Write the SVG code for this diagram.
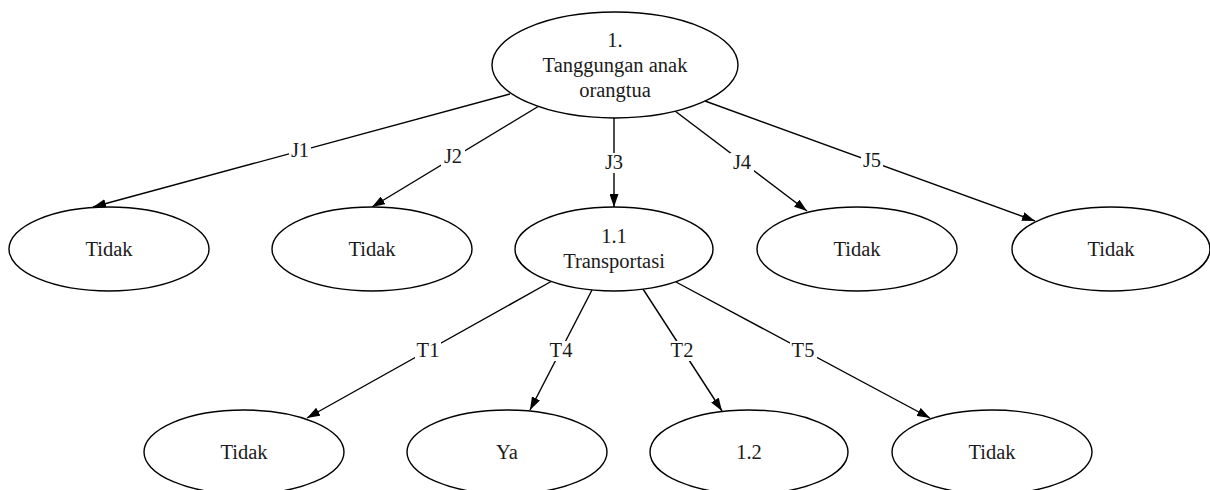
<svg xmlns="http://www.w3.org/2000/svg" width="1210" height="490" viewBox="0 0 1210 490">
<defs>
<style>
.node ellipse{fill:#fff;stroke:#000;stroke-width:1.4}
.node text{font-family:"Liberation Serif","Times New Roman",serif;font-size:20.5px;fill:#1a1a1a;text-anchor:middle}
.edge line{stroke:#000;stroke-width:1.4;marker-end:url(#arr)}
.edge rect{fill:#fff;stroke:none}
.lbl{font-family:"Liberation Serif","Times New Roman",serif;font-size:20.5px;fill:#1a1a1a;text-anchor:middle}
</style>
<marker id="arr" viewBox="0 0 13 9" refX="13" refY="4.5" markerWidth="13" markerHeight="9" markerUnits="userSpaceOnUse" orient="auto">
<path d="M0,0 L13,4.5 L0,9 z" fill="#000"/>
</marker>
</defs>
<rect width="1210" height="490" fill="#fff"/>
<g id="connectors" class="edge">
<line x1="510" y1="94" x2="93" y2="207"/>
<line x1="539" y1="106" x2="372" y2="207"/>
<line x1="614" y1="118" x2="614" y2="207"/>
<line x1="675" y1="111" x2="807" y2="211"/>
<line x1="705" y1="101" x2="1035" y2="221"/>
<line x1="552" y1="281" x2="307" y2="418"/>
<line x1="592" y1="290" x2="530" y2="410"/>
<line x1="643" y1="289" x2="722" y2="411"/>
<line x1="676" y1="282" x2="930" y2="418"/>
<rect x="289" y="141" width="22" height="20"/>
<rect x="441" y="147" width="24" height="20"/>
<rect x="602" y="153" width="24" height="20"/>
<rect x="730" y="153" width="24" height="20"/>
<rect x="861" y="151" width="22" height="20"/>
<rect x="415" y="341" width="26" height="20"/>
<rect x="547" y="341" width="28" height="20"/>
<rect x="668" y="341" width="28" height="20"/>
<rect x="790" y="340" width="27" height="20"/>
<text class="lbl" x="300" y="157">J1</text>
<text class="lbl" x="453" y="163">J2</text>
<text class="lbl" x="614" y="169">J3</text>
<text class="lbl" x="742" y="169">J4</text>
<text class="lbl" x="872" y="167">J5</text>
<text class="lbl" x="428" y="357">T1</text>
<text class="lbl" x="561" y="357">T4</text>
<text class="lbl" x="682" y="357">T2</text>
<text class="lbl" x="803" y="357">T5</text>
</g>
<g id="n1" class="node"><ellipse cx="615" cy="65" rx="123" ry="53"/><text x="615" y="47">1.</text><text x="615" y="72">Tanggungan anak</text><text x="615" y="97">orangtua</text></g>
<g id="j1" class="node"><ellipse cx="109" cy="249" rx="100" ry="42"/><text x="109" y="256">Tidak</text></g>
<g id="j2" class="node"><ellipse cx="372" cy="249" rx="100" ry="42"/><text x="372" y="256">Tidak</text></g>
<g id="n11" class="node"><ellipse cx="614" cy="249" rx="99" ry="42"/><text x="614" y="243">1.1</text><text x="614" y="268">Transportasi</text></g>
<g id="j4" class="node"><ellipse cx="857" cy="249" rx="100" ry="42"/><text x="857" y="256">Tidak</text></g>
<g id="j5" class="node"><ellipse cx="1111" cy="249" rx="99" ry="42"/><text x="1111" y="256">Tidak</text></g>
<g id="t1" class="node"><ellipse cx="244" cy="452" rx="100" ry="42"/><text x="244" y="459">Tidak</text></g>
<g id="t4" class="node"><ellipse cx="507" cy="452" rx="100" ry="42"/><text x="507" y="459">Ya</text></g>
<g id="t2" class="node"><ellipse cx="749" cy="452" rx="99" ry="42"/><text x="749" y="459">1.2</text></g>
<g id="t5" class="node"><ellipse cx="992" cy="452" rx="100" ry="42"/><text x="992" y="459">Tidak</text></g>
</svg>
